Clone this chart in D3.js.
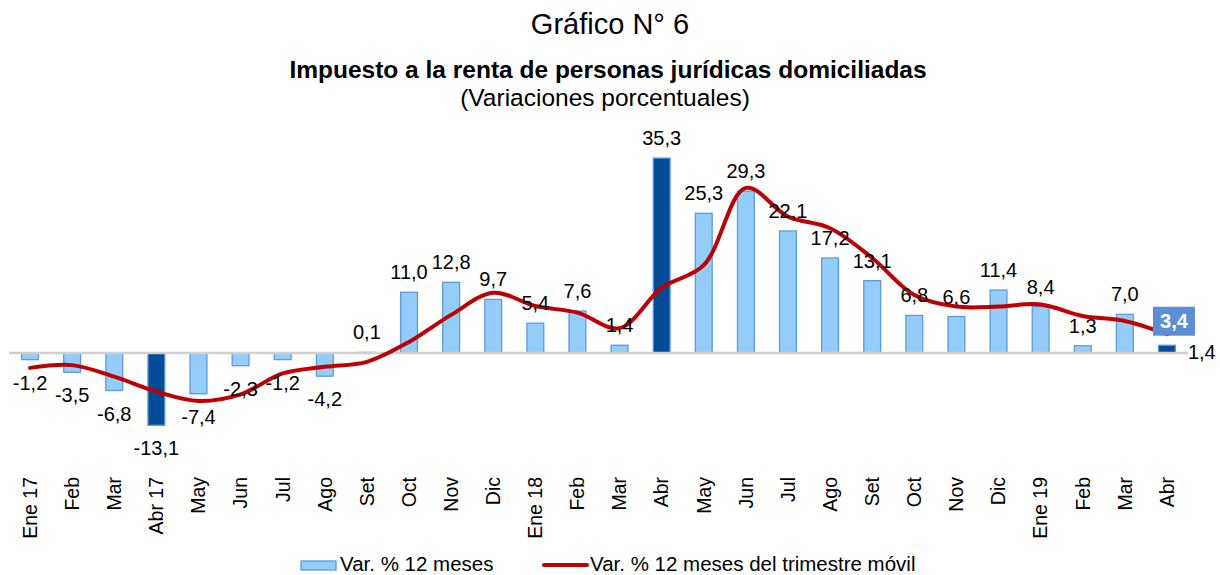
<!DOCTYPE html>
<html>
<head>
<meta charset="utf-8">
<script src="https://cdn.jsdelivr.net/npm/d3@7"></script>
<style>
  html, body { margin: 0; padding: 0; background: #fff; }
  svg text { font-family: "Liberation Sans", Arial, sans-serif; fill: #000; }
</style>
</head>
<body>
<svg id="chart" width="1220" height="575"></svg>
<script>
const categories = ["Ene 17","Feb","Mar","Abr 17","May","Jun","Jul","Ago","Set","Oct","Nov","Dic",
  "Ene 18","Feb","Mar","Abr","May","Jun","Jul","Ago","Set","Oct","Nov","Dic",
  "Ene 19","Feb","Mar","Abr"];
const var12 = [-1.2,-3.5,-6.8,-13.1,-7.4,-2.3,-1.2,-4.2,0.1,11.0,12.8,9.7,
  5.4,7.6,1.4,35.3,25.3,29.3,22.1,17.2,13.1,6.8,6.6,11.4,
  8.4,1.3,7.0,1.4];
const varTrim = [-2.7,-2.2,-4.3,-7.0,-8.7,-7.5,-3.7,-2.5,-1.6,2.0,6.9,10.9,
  8.5,7.3,4.5,11.8,15.9,29.9,24.7,22.6,17.2,10.5,8.4,8.4,
  8.8,6.7,5.8,3.4];
const highlighted = [3,15,27];
const seriesNames = ["Var. % 12 meses","Var. % 12 meses del trimestre móvil"];
const titleText = "Gráfico N° 6";
const subtitleText = "Impuesto a la renta de personas jurídicas domiciliadas";
const unitText = "(Variaciones porcentuales)";

const fmt = v => d3.format(".1f")(v).replace(".", ",").replace("\u2212", "-");

const svg = d3.select("#chart");
const idx = d3.range(categories.length);

const x = d3.scaleBand().domain(idx).range([9, 1188]).paddingInner(0.6).paddingOuter(0.3);
const y = d3.scaleLinear().domain([-16, 38]).range([441.3, 143.2]);

const lightFill = "#94CDF9", lightStroke = "#5B9BE0";
const darkFill = "#004C98", darkStroke = "#5B9BE0";

// Titles
svg.append("text").attr("x", 610).attr("y", 34).attr("text-anchor", "middle")
  .style("font-size", "29px").text(titleText);
svg.append("text").attr("x", 608).attr("y", 78).attr("text-anchor", "middle")
  .style("font-size", "24.5px").style("font-weight", "bold").text(subtitleText);
svg.append("text").attr("x", 605).attr("y", 106).attr("text-anchor", "middle")
  .style("font-size", "24.5px").text(unitText);

// Bars
svg.append("g").selectAll("rect").data(idx).join("rect")
  .attr("x", i => x(i))
  .attr("width", x.bandwidth())
  .attr("y", i => y(Math.max(0, var12[i])))
  .attr("height", i => Math.abs(y(var12[i]) - y(0)))
  .attr("fill", i => highlighted.includes(i) ? darkFill : lightFill)
  .attr("stroke", i => highlighted.includes(i) ? darkStroke : lightStroke)
  .attr("stroke-width", 1.3);

// Zero axis line
svg.append("line").attr("x1", 9).attr("x2", 1188)
  .attr("y1", y(0)).attr("y2", y(0))
  .attr("stroke", "#D0D0D0").attr("stroke-width", 2.5);

// Trimestre line
const cx = i => x(i) + x.bandwidth() / 2;
const line = d3.line().x(i => cx(i)).y(i => y(varTrim[i])).curve(d3.curveCatmullRom.alpha(0.5));
svg.append("path").datum(idx).attr("d", line)
  .attr("fill", "none").attr("stroke", "#C00000").attr("stroke-width", 4)
  .attr("stroke-linejoin", "round").attr("stroke-linecap", "round");

// Bar labels
const last = categories.length - 1;
svg.append("g").selectAll("text").data(idx).join("text")
  .attr("x", i => i === last ? cx(i) + 21 : cx(i))
  .attr("y", i => {
    if (i === last) return y(0) + 6;
    return var12[i] >= 0 ? y(var12[i]) - 13 : y(var12[i]) + 30;
  })
  .attr("text-anchor", i => i === last ? "start" : "middle")
  .style("font-size", "20px")
  .text(i => fmt(var12[i]));

// Highlighted last line value
const lx = cx(last) + 7, ly = y(varTrim[last]) - 13;
svg.append("rect").attr("x", lx - 21).attr("y", ly - 14.5).attr("width", 42).attr("height", 29)
  .attr("fill", "#5A8FD8");
svg.append("text").attr("x", lx).attr("y", ly + 7).attr("text-anchor", "middle")
  .style("font-size", "20px").style("font-weight", "bold").style("fill", "#fff")
  .text(fmt(varTrim[last]));

// X axis labels (rotated)
const xAxis = d3.axisBottom(x).tickSize(0).tickFormat(i => categories[i]);
const gx = svg.append("g").attr("transform", "translate(0,477)").call(xAxis);
gx.select(".domain").remove();
gx.selectAll("text")
  .attr("transform", "rotate(-90)")
  .attr("x", 0).attr("y", 0).attr("dy", "0.35em")
  .attr("text-anchor", "end")
  .style("font-size", "19.5px")
  .style("font-family", "'Liberation Sans', Arial, sans-serif")
  .style("fill", "#000");

// Legend
const lg = svg.append("g");
lg.append("rect").attr("x", 301).attr("y", 561).attr("width", 35).attr("height", 9)
  .attr("fill", lightFill).attr("stroke", lightStroke).attr("stroke-width", 1.3);
lg.append("text").attr("x", 340).attr("y", 571).style("font-size", "20.5px").text(seriesNames[0]);
lg.append("line").attr("x1", 544).attr("x2", 587).attr("y1", 565).attr("y2", 565)
  .attr("stroke", "#C00000").attr("stroke-width", 4).attr("stroke-linecap", "round");
lg.append("text").attr("x", 590).attr("y", 571).style("font-size", "20.5px").text(seriesNames[1]);
</script>
</body>
</html>
